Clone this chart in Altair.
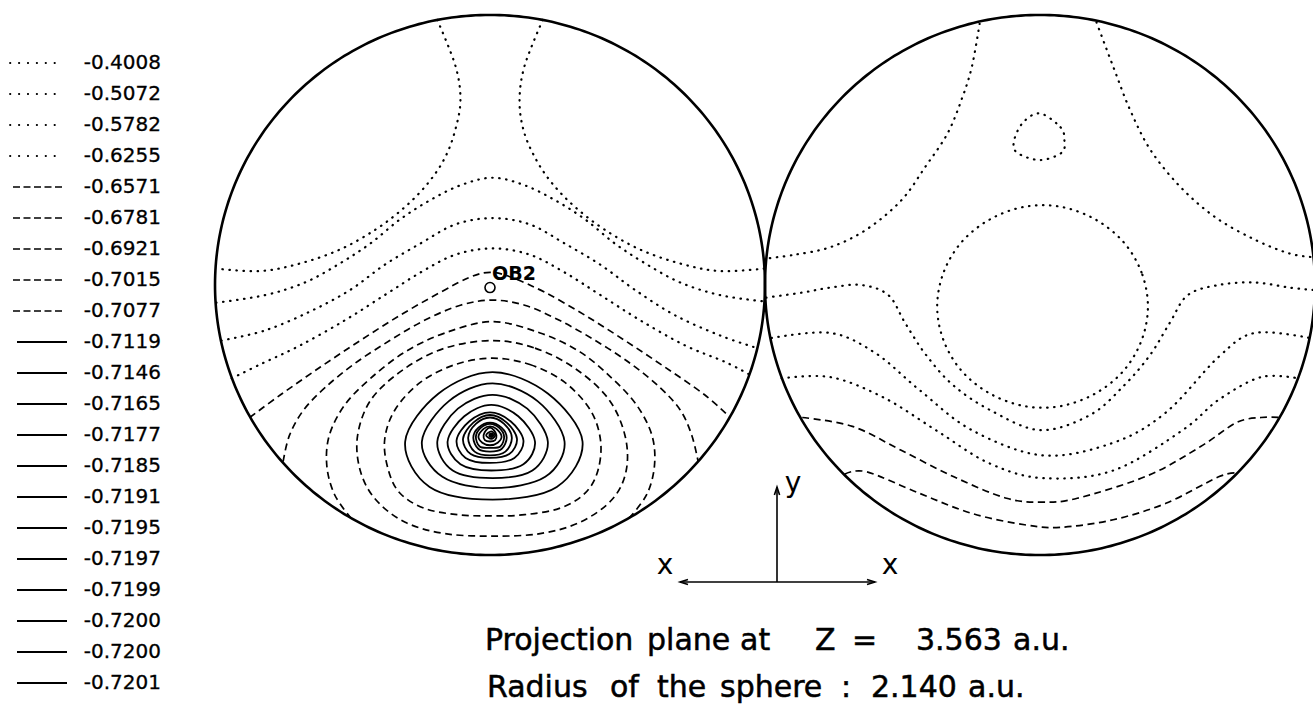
import numpy as np
import pandas as pd
import altair as alt

# ---------------------------------------------------------------------------
# Physical parameters of the projection
SPHERE_RADIUS = 2.140   # a.u.
PLANE_Z = 3.563         # a.u.

# Contour levels (legend order) and the line style used for each
LEVEL_VALUES = [-0.4008, -0.5072, -0.5782, -0.6255, -0.6571, -0.6781, -0.6921,
                -0.7015, -0.7077, -0.7119, -0.7146, -0.7165, -0.7177, -0.7185,
                -0.7191, -0.7195, -0.7197, -0.7199, -0.7200, -0.7200, -0.7201]
LEVEL_STYLES = ["dotted"] * 4 + ["dashed"] * 5 + ["solid"] * 12

# ---------------------------------------------------------------------------
# Contour vertices (a.u.), relative to the centre of their own sphere
# Left sphere
L_TOP_LEFT = [(-0.41, 2.10), (-0.27, 1.74), (-0.23, 1.47), (-0.27, 1.23), (-0.35, 1.01),
              (-0.48, 0.81), (-0.66, 0.62), (-0.89, 0.44), (-1.17, 0.28), (-1.48, 0.17),
              (-1.79, 0.11), (-2.13, 0.13)]
L_TOP_RIGHT = [(0.41, 2.10), (0.27, 1.74), (0.23, 1.47), (0.26, 1.23), (0.35, 1.01),
               (0.48, 0.81), (0.66, 0.62), (0.89, 0.44), (1.17, 0.28), (1.48, 0.17),
               (1.79, 0.11), (2.13, 0.13)]
L_ARC2 = [(-2.13, -0.14), (-1.75, -0.08), (-1.44, 0.02), (-1.17, 0.17), (-0.93, 0.33),
          (-0.70, 0.52), (-0.47, 0.67), (-0.23, 0.79), (0.02, 0.85), (0.27, 0.79),
          (0.51, 0.67), (0.74, 0.52), (0.97, 0.33), (1.21, 0.17), (1.48, 0.02),
          (1.79, -0.08), (2.13, -0.13)]
L_ARC3 = [(-2.09, -0.44), (-1.75, -0.36), (-1.40, -0.21), (-1.09, -0.04), (-0.82, 0.16),
          (-0.54, 0.33), (-0.27, 0.48), (0.02, 0.53), (0.31, 0.48), (0.58, 0.33),
          (0.86, 0.16), (1.13, -0.04), (1.44, -0.24), (1.79, -0.40), (2.08, -0.50)]
L_ARC4 = [(-2.01, -0.74), (-1.79, -0.63), (-1.48, -0.48), (-1.13, -0.28), (-0.82, -0.08),
          (-0.54, 0.10), (-0.27, 0.24), (0.02, 0.29), (0.31, 0.24), (0.58, 0.10),
          (0.86, -0.08), (1.17, -0.28), (1.52, -0.48), (1.83, -0.61), (2.02, -0.71)]
L_DASH1 = [(-1.87, -1.05), (-1.63, -0.87), (-1.32, -0.65), (-1.01, -0.44), (-0.70, -0.24),
           (-0.39, -0.06), (-0.16, 0.06), (0.00, 0.10), (0.17, 0.06), (0.43, -0.06),
           (0.74, -0.24), (1.05, -0.44), (1.36, -0.65), (1.67, -0.87), (1.87, -1.05)]
L_DASH2 = [(-1.61, -1.40), (-1.56, -1.19), (-1.45, -0.99), (-1.28, -0.81), (-1.05, -0.62),
           (-0.78, -0.44), (-0.51, -0.28), (-0.23, -0.16), (0.02, -0.12), (0.27, -0.16),
           (0.54, -0.28), (0.82, -0.44), (1.09, -0.62), (1.32, -0.81), (1.48, -0.99),
           (1.57, -1.19), (1.62, -1.40)]
L_DASH3 = [(-1.08, -1.85), (-1.21, -1.66), (-1.27, -1.43), (-1.25, -1.19), (-1.13, -0.95),
           (-0.93, -0.74), (-0.66, -0.53), (-0.35, -0.38), (0.02, -0.29), (0.39, -0.38),
           (0.70, -0.53), (0.95, -0.74), (1.14, -0.95), (1.26, -1.19), (1.28, -1.43),
           (1.22, -1.66), (1.08, -1.85)]
L_DASH4 = [(0.02, -0.44), (0.35, -0.50), (0.66, -0.66), (0.92, -0.90), (1.05, -1.19),
           (1.06, -1.47), (0.95, -1.70), (0.70, -1.88), (0.39, -1.97), (0.02, -1.99),
           (-0.35, -1.97), (-0.66, -1.88), (-0.89, -1.70), (-1.01, -1.47), (-1.03, -1.19),
           (-0.92, -0.90), (-0.66, -0.66), (-0.35, -0.50)]
L_DASH5 = [(0.02, -0.58), (0.31, -0.63), (0.58, -0.77), (0.78, -0.99), (0.86, -1.23),
           (0.84, -1.47), (0.74, -1.65), (0.54, -1.77), (0.27, -1.82), (0.02, -1.83),
           (-0.25, -1.82), (-0.51, -1.77), (-0.70, -1.65), (-0.79, -1.47), (-0.82, -1.23),
           (-0.74, -0.99), (-0.54, -0.77), (-0.27, -0.63)]
L_SOLID = [
    [(0.02, -0.69), (0.45, -0.86), (0.72, -1.24), (0.52, -1.60), (0.02, -1.70), (-0.47, -1.60), (-0.66, -1.24), (-0.40, -0.86)],
    [(0.02, -0.78), (0.37, -0.92), (0.58, -1.24), (0.43, -1.52), (0.02, -1.61), (-0.37, -1.52), (-0.53, -1.24), (-0.32, -0.92)],
    [(0.02, -0.87), (0.29, -0.98), (0.45, -1.24), (0.33, -1.47), (0.02, -1.53), (-0.29, -1.47), (-0.41, -1.24), (-0.25, -0.98)],
    [(0.01, -0.95), (0.22, -1.04), (0.35, -1.24), (0.26, -1.42), (0.01, -1.47), (-0.23, -1.42), (-0.33, -1.24), (-0.20, -1.04)],
    [(0.00, -1.01), (0.16, -1.08), (0.26, -1.23), (0.19, -1.37), (0.00, -1.41), (-0.19, -1.37), (-0.26, -1.23), (-0.16, -1.08)],
    [(0.00, -1.03), (0.13, -1.09), (0.21, -1.22), (0.15, -1.34), (0.00, -1.37), (-0.15, -1.34), (-0.21, -1.22), (-0.13, -1.09)],
    [(0.00, -1.05), (0.11, -1.10), (0.17, -1.21), (0.12, -1.32), (0.00, -1.35), (-0.12, -1.32), (-0.17, -1.21), (-0.11, -1.10)],
    [(0.00, -1.09), (0.09, -1.13), (0.13, -1.21), (0.09, -1.30), (0.00, -1.32), (-0.09, -1.30), (-0.13, -1.21), (-0.09, -1.13)],
    [(0.00, -1.10), (0.07, -1.13), (0.11, -1.20), (0.08, -1.28), (0.00, -1.29), (-0.08, -1.28), (-0.11, -1.20), (-0.07, -1.13)],
    [(0.00, -1.12), (0.05, -1.14), (0.09, -1.20), (0.06, -1.25), (0.00, -1.27), (-0.06, -1.25), (-0.09, -1.20), (-0.05, -1.14)],
    [(0.00, -1.13), (0.03, -1.15), (0.05, -1.19), (0.04, -1.23), (0.00, -1.24), (-0.04, -1.23), (-0.05, -1.19), (-0.03, -1.15)],
    [(0.01, -1.16), (0.04, -1.19), (0.01, -1.22), (-0.03, -1.19)],
]
MINIMUM_POS = (0.01, -1.19)
OB2_POS = (0.00, -0.02)
OB2_LABEL = "OB2"

# Right sphere
R_TOP_LEFT = [(-0.47, 2.07), (-0.53, 1.73), (-0.61, 1.47), (-0.72, 1.20), (-0.89, 0.94),
              (-1.08, 0.67), (-1.35, 0.44), (-1.63, 0.30), (-1.91, 0.24), (-2.13, 0.21)]
R_TOP_RIGHT = [(0.44, 2.08), (0.57, 1.73), (0.70, 1.39), (0.86, 1.07), (1.09, 0.78),
               (1.36, 0.54), (1.67, 0.36), (1.94, 0.25), (2.13, 0.22)]
R_SMALL_LOOP = [(0.00, 1.36), (0.16, 1.25), (0.19, 1.15), (0.17, 1.05), (0.00, 0.99),
                (-0.18, 1.05), (-0.20, 1.15), (-0.13, 1.29)]
R_BIG_LOOP = [(0.84, -0.17), (0.79, 0.10), (0.65, 0.34), (0.43, 0.52), (0.16, 0.62),
              (-0.12, 0.62), (-0.39, 0.52), (-0.61, 0.34), (-0.75, 0.10), (-0.80, -0.17),
              (-0.75, -0.44), (-0.61, -0.68), (-0.39, -0.86), (-0.12, -0.96), (0.16, -0.96),
              (0.43, -0.86), (0.65, -0.68), (0.79, -0.44)]
R_VALLEY1 = [(-2.13, -0.10), (-1.85, -0.06), (-1.63, -0.02), (-1.39, 0.00), (-1.18, -0.08),
             (-1.05, -0.30), (-0.89, -0.55), (-0.68, -0.79), (-0.39, -0.99), (0.00, -1.15),
             (0.39, -1.03), (0.66, -0.79), (0.86, -0.55), (1.01, -0.30), (1.15, -0.08),
             (1.39, 0.00), (1.67, 0.02), (1.94, -0.02), (2.13, -0.04)]
R_VALLEY2 = [(-2.09, -0.42), (-1.63, -0.38), (-1.28, -0.54), (-0.94, -0.83), (-0.53, -1.15),
             (0.02, -1.35), (0.57, -1.25), (0.98, -1.01), (1.39, -0.57), (1.67, -0.38),
             (2.10, -0.42)]
R_VALLEY3 = [(-2.01, -0.74), (-1.63, -0.73), (-1.22, -0.89), (-0.81, -1.15), (-0.40, -1.41),
             (0.02, -1.53), (0.57, -1.47), (1.11, -1.15), (1.39, -0.91), (1.72, -0.73),
             (2.01, -0.74)]
R_DASH1 = [(-1.85, -1.05), (-1.46, -1.12), (-1.08, -1.31), (-0.67, -1.52), (-0.26, -1.69),
           (0.02, -1.72), (0.29, -1.69), (0.84, -1.51), (1.25, -1.28), (1.53, -1.09),
           (1.72, -1.05), (1.86, -1.05)]
R_DASH2 = [(-1.52, -1.50), (-1.35, -1.48), (-0.94, -1.65), (-0.53, -1.81), (-0.12, -1.90),
           (0.16, -1.92), (0.57, -1.86), (0.98, -1.73), (1.39, -1.52), (1.54, -1.49)]

# (level index, closed, vertices)
LEFT_CONTOURS = ([(0, False, L_TOP_LEFT), (0, False, L_TOP_RIGHT), (1, False, L_ARC2),
                  (2, False, L_ARC3), (3, False, L_ARC4), (4, False, L_DASH1),
                  (5, False, L_DASH2), (6, False, L_DASH3), (7, True, L_DASH4),
                  (8, True, L_DASH5)]
                 + [(9 + i, True, ring) for i, ring in enumerate(L_SOLID)])
RIGHT_CONTOURS = [(0, False, R_TOP_LEFT), (0, False, R_TOP_RIGHT), (0, True, R_SMALL_LOOP),
                  (1, True, R_BIG_LOOP), (1, False, R_VALLEY1), (2, False, R_VALLEY2),
                  (3, False, R_VALLEY3), (4, False, R_DASH1), (5, False, R_DASH2)]

# Caption words, line by line
CAPTION_1 = ["Projection", "plane", "at", "Z", "=", f"{PLANE_Z:.3f}", "a.u."]
CAPTION_2 = ["Radius", "of", "the", "sphere", ":", f"{SPHERE_RADIUS:.3f}", "a.u."]

# ---------------------------------------------------------------------------
# Tables
SPHERE_SHIFT = {"left": 0.0, "right": 2 * SPHERE_RADIUS}

rows = []
cid = 0
for sphere, contours in (("left", LEFT_CONTOURS), ("right", RIGHT_CONTOURS)):
    for level, closed, pts in contours:
        for k, (x, y) in enumerate(pts):
            rows.append(dict(cid=cid, k=k, x=x + SPHERE_SHIFT[sphere], y=y,
                             level=LEVEL_VALUES[level], style=LEVEL_STYLES[level],
                             closed=closed))
        cid += 1
contour_df = pd.DataFrame(rows)

theta = np.linspace(0, 2 * np.pi, 361)
outline_df = pd.concat([
    pd.DataFrame(dict(sphere=s, k=np.arange(theta.size),
                      x=SPHERE_RADIUS * np.cos(theta) + SPHERE_SHIFT[s],
                      y=SPHERE_RADIUS * np.sin(theta)))
    for s in SPHERE_SHIFT
])

legend_df = pd.DataFrame(dict(row=np.arange(len(LEVEL_VALUES)),
                              label=[f"{v:.4f}" for v in LEVEL_VALUES],
                              style=LEVEL_STYLES))

# ---------------------------------------------------------------------------
# Scales: a.u. in the projection plane -> canvas
W, H = 1313, 717
PX_PER_AU_X, PX_PER_AU_Y = 128.5, 126.2
CX, CY = 490, 285          # canvas position of the left sphere centre
x_scale = alt.Scale(domain=[-CX / PX_PER_AU_X, (W - CX) / PX_PER_AU_X], nice=False, zero=False)
y_scale = alt.Scale(domain=[-(H - CY) / PX_PER_AU_Y, CY / PX_PER_AU_Y], nice=False, zero=False)
X = alt.X("x:Q", scale=x_scale, axis=None)
Y = alt.Y("y:Q", scale=y_scale, axis=None)

ROW_TOP, ROW_STEP = 63, 31
legend_y = alt.Y("row:Q", axis=None,
                 scale=alt.Scale(domain=[-ROW_TOP / ROW_STEP, (H - ROW_TOP) / ROW_STEP],
                                 reverse=True, nice=False, zero=False))

FONT = "DejaVu Sans"
LINE_STYLE = {
    "dotted": dict(strokeDash=[0.5, 6.5], strokeWidth=2.2, strokeCap="round"),
    "dashed": dict(strokeDash=[7, 4.5], strokeWidth=1.7),
    "solid": dict(strokeWidth=1.8),
}
KEY_STYLE = {
    "dotted": (dict(strokeDash=[0.4, 8.5], strokeWidth=1.8, strokeCap="round"), 10, 57),
    "dashed": (dict(strokeDash=[7, 3.5], strokeWidth=1.6), 13, 63),
    "solid": (dict(strokeWidth=2.2), 17, 67),
}

layers = []

# contour lines
for style, props in LINE_STYLE.items():
    for closed in (False, True):
        sub = contour_df[(contour_df["style"] == style) & (contour_df["closed"] == closed)]
        if sub.empty:
            continue
        layers.append(
            alt.Chart(sub).mark_line(
                color="black",
                interpolate="cardinal-closed" if closed else "cardinal",
                **props,
            ).encode(x=X, y=Y, detail="cid:N", order="k:Q")
        )

# sphere outlines
layers.append(
    alt.Chart(outline_df).mark_line(color="black", strokeWidth=2.6, interpolate="linear-closed")
    .encode(x=X, y=Y, detail="sphere:N", order="k:Q")
)

# minimum and the OB2 atom
layers.append(
    alt.Chart(pd.DataFrame(dict(x=[MINIMUM_POS[0]], y=[MINIMUM_POS[1]])))
    .mark_point(shape="circle", filled=True, color="black", size=30, opacity=1)
    .encode(x=X, y=Y)
)
ob2_df = pd.DataFrame(dict(x=[OB2_POS[0]], y=[OB2_POS[1]], label=[OB2_LABEL]))
layers.append(
    alt.Chart(ob2_df).mark_point(shape="circle", filled=False, color="black", size=100,
                                 strokeWidth=1.6, opacity=1)
    .encode(x=X, y=Y)
)
layers.append(
    alt.Chart(ob2_df).mark_text(align="left", baseline="alphabetic", dx=2, dy=-8,
                                font=FONT, fontWeight="bold", fontSize=19, color="black")
    .encode(x=X, y=Y, text="label:N")
)

# legend key
for style, (props, x0, x1) in KEY_STYLE.items():
    layers.append(
        alt.Chart(legend_df[legend_df["style"] == style]).mark_rule(color="black", **props)
        .encode(x=alt.value(x0), x2=alt.value(x1), y=legend_y)
    )
layers.append(
    alt.Chart(legend_df).mark_text(align="right", baseline="middle", font=FONT,
                                   fontSize=20, color="black", stroke="black",
                                   strokeWidth=0.3)
    .encode(x=alt.value(161), y=legend_y, text="label:N")
)

# coordinate-axes indicator
one = pd.DataFrame(dict(t=[0]))
layers.append(alt.Chart(one).mark_rule(color="black", strokeWidth=1.6)
              .encode(x=alt.value(680), x2=alt.value(875), y=alt.value(582)))
layers.append(alt.Chart(one).mark_rule(color="black", strokeWidth=1.6)
              .encode(x=alt.value(777), y=alt.value(582), y2=alt.value(487)))
CHEVRON = "M -1 -0.65 L 1 0 L -1 0.65"
for ax, ay, ang in ((871, 582, 0), (684, 582, 180), (777, 491, 270)):
    layers.append(alt.Chart(one).mark_point(shape=CHEVRON, filled=False, size=64, angle=ang,
                                            color="black", strokeWidth=1.6, opacity=1)
                  .encode(x=alt.value(ax), y=alt.value(ay)))
for txt, tx, ty in (("x", 665, 566), ("x", 890, 566), ("y", 793, 484)):
    layers.append(alt.Chart(one).mark_text(text=txt, font=FONT, fontSize=28, color="black",
                                           align="center", baseline="middle")
                  .encode(x=alt.value(tx), y=alt.value(ty)))

# captions, word by word (wide letter spacing of the plotter font)
CAPTION_X_1 = [485, 647, 740, 815, 852, 916, 1013]
CAPTION_X_2 = [487, 610, 657, 720, 841, 871, 968]
for words, xs, ty in ((CAPTION_1, CAPTION_X_1, 650), (CAPTION_2, CAPTION_X_2, 697)):
    for word, tx in zip(words, xs):
        layers.append(alt.Chart(one).mark_text(text=word, font=FONT, fontSize=30,
                                               color="black", stroke="black",
                                               strokeWidth=0.5, align="left",
                                               baseline="alphabetic")
                      .encode(x=alt.value(tx), y=alt.value(ty)))

chart = (
    alt.layer(*layers)
    .resolve_scale(y="independent")
    .properties(width=W, height=H, padding=0, background="white",
                autosize=alt.AutoSizeParams(type="none"))
    .configure_view(stroke=None)
)

chart.save("out.html", embed_options={"renderer": "svg", "actions": False})
